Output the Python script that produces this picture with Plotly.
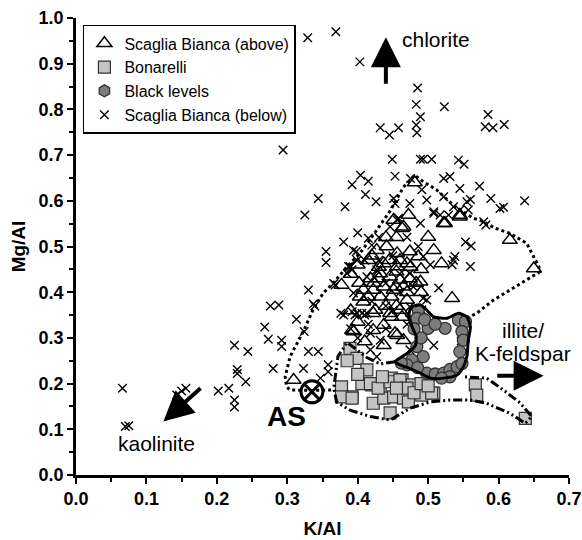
import plotly.graph_objects as go

# ---------------- data ----------------
# Scaglia Bianca (below) -- crosses
below_k = [0.066, 0.070, 0.075, 0.143, 0.150, 0.156, 0.202, 0.217, 0.225, 0.229, 0.229, 0.241, 0.225, 0.225, 0.244,
           0.268, 0.273, 0.276, 0.288, 0.292, 0.292, 0.280, 0.323, 0.358, 0.358, 0.347, 0.330, 0.344,
           0.329, 0.369, 0.403, 0.485, 0.483, 0.489, 0.483, 0.484, 0.523, 0.432, 0.445, 0.458, 0.585, 0.581, 0.592, 0.608,
           0.294, 0.449, 0.489, 0.493, 0.505, 0.543, 0.551,
           0.404, 0.392, 0.415, 0.453, 0.475, 0.522, 0.531, 0.573, 0.545, 0.491,
           0.344, 0.382, 0.411, 0.426, 0.451, 0.325, 0.498, 0.522, 0.560, 0.589, 0.637, 0.602, 0.607, 0.579, 0.582,
           0.536, 0.545, 0.529, 0.458, 0.508,
           0.380, 0.355, 0.355, 0.553, 0.561, 0.560, 0.330, 0.337, 0.313, 0.324, 0.515, 0.493,
           0.453, 0.474, 0.555, 0.557, 0.508, 0.517, 0.489, 0.456, 0.446, 0.415, 0.420, 0.394, 0.399, 0.389, 0.385,
           0.486, 0.493, 0.503, 0.536, 0.538, 0.368, 0.380, 0.396, 0.406, 0.474, 0.491, 0.413, 0.427, 0.474, 0.479,
           0.398, 0.387, 0.392, 0.366, 0.376, 0.394, 0.399, 0.410, 0.413, 0.392, 0.498, 0.534, 0.508, 0.474, 0.496,
           0.418, 0.432, 0.418, 0.427, 0.547, 0.339,
           0.430, 0.440, 0.450, 0.460, 0.420, 0.440, 0.460, 0.410, 0.430, 0.470, 0.400, 0.450, 0.470, 0.440, 0.400,
           0.390, 0.415]
below_mg = [0.190, 0.106, 0.108, 0.175, 0.184, 0.190, 0.184, 0.190, 0.284, 0.231, 0.222, 0.204, 0.164, 0.149, 0.270,
            0.324, 0.297, 0.370, 0.372, 0.295, 0.281, 0.233, 0.233, 0.241, 0.226, 0.212, 0.270, 0.270,
            0.957, 0.970, 0.904, 0.847, 0.811, 0.784, 0.766, 0.749, 0.806, 0.760, 0.744, 0.760, 0.789, 0.762, 0.760, 0.767,
            0.711, 0.691, 0.691, 0.691, 0.691, 0.689, 0.680,
            0.656, 0.635, 0.643, 0.654, 0.649, 0.649, 0.653, 0.632, 0.627, 0.624,
            0.605, 0.587, 0.614, 0.598, 0.605, 0.569, 0.602, 0.609, 0.603, 0.605, 0.600, 0.583, 0.586, 0.554, 0.547,
            0.587, 0.580, 0.569, 0.562, 0.573,
            0.510, 0.489, 0.465, 0.510, 0.501, 0.456, 0.405, 0.374, 0.341, 0.314, 0.409, 0.387,
            0.594, 0.594, 0.598, 0.580, 0.576, 0.569, 0.551, 0.558, 0.543, 0.518, 0.503, 0.492, 0.470, 0.456, 0.441,
            0.500, 0.478, 0.460, 0.470, 0.478, 0.416, 0.350, 0.350, 0.354, 0.368, 0.361, 0.434, 0.449, 0.441, 0.412,
            0.489, 0.456, 0.449, 0.419, 0.354, 0.398, 0.354, 0.350, 0.354, 0.357, 0.383, 0.460, 0.284, 0.274, 0.303,
            0.310, 0.295, 0.274, 0.259, 0.293, 0.370,
            0.470, 0.420, 0.480, 0.440, 0.380, 0.370, 0.400, 0.470, 0.520, 0.520, 0.530, 0.360, 0.330, 0.320, 0.300,
            0.320, 0.330]

# Scaglia Bianca (above) -- open triangles
above_k = [0.481, 0.465, 0.500, 0.522, 0.545, 0.616, 0.650, 0.519, 0.534, 0.377, 0.472, 0.451, 0.463, 0.508,
           0.427, 0.441, 0.456, 0.474, 0.486, 0.437, 0.456, 0.470, 0.418, 0.432, 0.446, 0.460, 0.474, 0.489,
           0.408, 0.422, 0.437, 0.451, 0.465, 0.403, 0.432, 0.448, 0.470, 0.460, 0.446, 0.479, 0.422,
           0.408, 0.425, 0.448, 0.463, 0.437, 0.394, 0.422, 0.453, 0.437, 0.465, 0.410, 0.456, 0.392, 0.309,
           0.402, 0.423, 0.454, 0.483,
           0.390, 0.400, 0.415, 0.430, 0.445, 0.460, 0.475, 0.490, 0.440, 0.455, 0.420, 0.430, 0.455, 0.470,
           0.440, 0.415, 0.390, 0.455, 0.490, 0.400, 0.524, 0.545]
above_mg = [0.640, 0.543, 0.521, 0.551, 0.569, 0.514, 0.452, 0.463, 0.387, 0.416, 0.569, 0.558, 0.540, 0.492,
            0.492, 0.500, 0.485, 0.489, 0.478, 0.463, 0.456, 0.463, 0.430, 0.441, 0.434, 0.427, 0.430, 0.423,
            0.405, 0.405, 0.412, 0.405, 0.412, 0.390, 0.390, 0.390, 0.383, 0.361, 0.354, 0.354, 0.354,
            0.379, 0.361, 0.346, 0.346, 0.328, 0.314, 0.317, 0.310, 0.284, 0.295, 0.292, 0.306, 0.317, 0.208,
            0.420, 0.420, 0.412, 0.420,
            0.440, 0.460, 0.470, 0.455, 0.470, 0.470, 0.455, 0.450, 0.520, 0.520, 0.480, 0.430, 0.445, 0.400,
            0.370, 0.390, 0.360, 0.370, 0.400, 0.335, 0.551, 0.565]

# Bonarelli -- grey squares
bon_k = [0.389, 0.399, 0.413, 0.377, 0.392, 0.406, 0.420, 0.432, 0.448, 0.463, 0.477, 0.422, 0.437, 0.451, 0.465,
         0.472, 0.491, 0.508, 0.446, 0.567, 0.569, 0.638, 0.377, 0.418, 0.429, 0.446, 0.460, 0.470, 0.505, 0.392,
         0.385, 0.400, 0.455, 0.480, 0.435, 0.490, 0.500]
bon_mg = [0.277, 0.255, 0.230, 0.193, 0.171, 0.200, 0.197, 0.190, 0.212, 0.208, 0.197, 0.157, 0.168, 0.171, 0.168,
          0.160, 0.175, 0.179, 0.136, 0.197, 0.175, 0.124, 0.171, 0.200, 0.190, 0.204, 0.208, 0.190, 0.179, 0.168,
          0.250, 0.220, 0.190, 0.180, 0.215, 0.200, 0.195]

# Black levels -- dark grey circles
black_k = [0.486, 0.484, 0.500, 0.524, 0.543, 0.553, 0.548, 0.550, 0.493, 0.477, 0.470, 0.498, 0.510, 0.522,
           0.531, 0.541, 0.548, 0.531, 0.519, 0.484, 0.490, 0.480, 0.495, 0.510, 0.545, 0.462, 0.485]
black_mg = [0.361, 0.343, 0.321, 0.321, 0.339, 0.336, 0.314, 0.295, 0.259, 0.252, 0.241, 0.223, 0.221, 0.223,
            0.231, 0.237, 0.244, 0.215, 0.212, 0.281, 0.300, 0.320, 0.340, 0.330, 0.270, 0.245, 0.235]

# Average shale reference point
as_k = [0.335]
as_mg = [0.182]

# Field outlines
env_above_k = [0.555, 0.569, 0.593, 0.616, 0.640, 0.659, 0.657, 0.640, 0.616, 0.595, 0.579, 0.564, 0.538, 0.512,
               0.493, 0.481, 0.465, 0.446, 0.422, 0.403, 0.385, 0.366, 0.351, 0.337, 0.323, 0.304, 0.297, 0.299,
               0.304, 0.335, 0.366]
env_above_mg = [0.343, 0.354, 0.383, 0.405, 0.427, 0.445, 0.456, 0.507, 0.529, 0.540, 0.554, 0.562, 0.587, 0.624,
                0.642, 0.656, 0.630, 0.578, 0.525, 0.485, 0.456, 0.421, 0.398, 0.363, 0.315, 0.259, 0.215, 0.193,
                0.186, 0.185, 0.186]

env_black_k = [0.477, 0.489, 0.498, 0.508, 0.527, 0.543, 0.555, 0.560, 0.557, 0.555, 0.550, 0.541, 0.522, 0.503,
               0.489, 0.474, 0.460, 0.453, 0.463, 0.474, 0.482, 0.483, 0.478, 0.473, 0.474, 0.477]
env_black_mg = [0.368, 0.372, 0.361, 0.346, 0.343, 0.354, 0.346, 0.324, 0.295, 0.259, 0.237, 0.219, 0.212, 0.212,
                0.223, 0.233, 0.241, 0.248, 0.259, 0.270, 0.284, 0.303, 0.321, 0.343, 0.361, 0.368]

env_bon_k = [0.453, 0.432, 0.413, 0.385, 0.372, 0.366, 0.370, 0.389, 0.418, 0.446, 0.474, 0.503, 0.531, 0.560,
             0.583, 0.616, 0.638, 0.647, 0.631, 0.607, 0.583, 0.550]
env_bon_mg = [0.248, 0.243, 0.257, 0.290, 0.260, 0.190, 0.160, 0.142, 0.128, 0.120, 0.146, 0.160, 0.164, 0.164,
              0.157, 0.135, 0.113, 0.128, 0.157, 0.186, 0.212, 0.215]

x_ticks = [0.0, 0.1, 0.2, 0.3, 0.4, 0.5, 0.6, 0.7]
y_ticks = [0.0, 0.1, 0.2, 0.3, 0.4, 0.5, 0.6, 0.7, 0.8, 0.9, 1.0]

FONT = "Liberation Sans, Arial, Helvetica, sans-serif"

fig = go.Figure()

fig.add_trace(go.Scatter(
    x=below_k, y=below_mg, mode="markers", name="Scaglia Bianca (below)", legendrank=4,
    marker=dict(symbol="x-thin-open", size=8.5, color="black", line=dict(color="black", width=1.4))))

fig.add_trace(go.Scatter(
    x=above_k, y=above_mg, mode="markers", name="Scaglia Bianca (above)", legendrank=1,
    marker=dict(symbol="triangle-up-open", size=13, color="black", line=dict(color="black", width=1.5))))

fig.add_trace(go.Scatter(
    x=env_above_k, y=env_above_mg, mode="lines", showlegend=False,
    line=dict(color="black", width=3, dash="dot")))

fig.add_trace(go.Scatter(
    x=bon_k, y=bon_mg, mode="markers", name="Bonarelli", legendrank=2,
    marker=dict(symbol="square", size=12, color="#c4c4c4", line=dict(color="#333333", width=1.2))))

fig.add_trace(go.Scatter(
    x=env_bon_k, y=env_bon_mg, mode="lines", showlegend=False,
    line=dict(color="black", width=3, dash="9px,3px,2px,3px,2px,3px")))

fig.add_trace(go.Scatter(
    x=black_k, y=black_mg, mode="markers", showlegend=False,
    marker=dict(symbol="circle", size=12, color="#7d7d7d", line=dict(color="#333333", width=1.3))))

fig.add_trace(go.Scatter(
    x=[None], y=[None], mode="markers", name="Black levels", legendrank=3,
    marker=dict(symbol="hexagon", size=12, color="#7d7d7d", line=dict(color="#333333", width=1.3))))

fig.add_trace(go.Scatter(
    x=env_black_k, y=env_black_mg, mode="lines", showlegend=False,
    line=dict(color="black", width=3, shape="spline", smoothing=0.6)))

fig.add_trace(go.Scatter(
    x=as_k, y=as_mg, mode="markers", showlegend=False,
    marker=dict(symbol="circle-x-open", size=22, color="black", line=dict(color="black", width=3))))

annos = []
arrow_common = dict(xref="x", yref="y", axref="x", ayref="y", showarrow=True, arrowhead=2,
                    arrowsize=1.5, arrowwidth=4, arrowcolor="black", text="")
annos.append(dict(x=0.440, y=0.958, ax=0.440, ay=0.853, **arrow_common))
annos.append(dict(x=0.664, y=0.217, ax=0.596, ay=0.217, **arrow_common))
annos.append(dict(x=0.124, y=0.117, ax=0.179, ay=0.193, **arrow_common))

txt = dict(xref="x", yref="y", showarrow=False, font=dict(family=FONT, size=21, color="black"))
annos.append(dict(x=0.460, y=0.952, text="chlorite", xanchor="left", yanchor="middle", **txt))
annos.append(dict(x=0.634, y=0.317, text="illite/", xanchor="center", yanchor="middle", **txt))
annos.append(dict(x=0.634, y=0.266, text="K-feldspar", xanchor="center", yanchor="middle", **txt))
annos.append(dict(x=0.114, y=0.068, text="kaolinite", xanchor="center", yanchor="middle", **txt))
annos.append(dict(x=0.299, y=0.128, text="<b>AS</b>", xanchor="center", yanchor="middle", xref="x", yref="y",
                  showarrow=False, font=dict(family=FONT, size=28, color="black")))

axis_common = dict(
    showgrid=False, zeroline=False, showline=True, linecolor="black", linewidth=2.5,
    ticks="outside", ticklen=6, tickwidth=2, tickcolor="black", automargin=False,
    tickfont=dict(family=FONT, size=18, color="black", weight="bold"),
    minor=dict(ticks="outside", ticklen=4, tickwidth=2, tickcolor="black", dtick=0.05),
)

fig.update_layout(
    width=582, height=540,
    margin=dict(l=76, r=13, t=18, b=65),
    paper_bgcolor="white", plot_bgcolor="white",
    font=dict(family=FONT, color="black"),
    showlegend=True,
    legend=dict(x=0.014, y=0.985, xanchor="left", yanchor="top",
                bgcolor="white", bordercolor="black", borderwidth=1.5,
                font=dict(family=FONT, size=16, color="black"), itemwidth=30),
    annotations=annos,
    xaxis=dict(range=[0, 0.7], tickvals=x_ticks, ticktext=[f"{v:.1f}" for v in x_ticks],
               title=dict(text="K/Al", font=dict(family=FONT, size=19, weight="bold"), standoff=14),
               **axis_common),
    yaxis=dict(range=[0, 1.0], tickvals=y_ticks, ticktext=[f"{v:.1f}" for v in y_ticks],
               title=dict(text="Mg/Al", font=dict(family=FONT, size=19, weight="bold"), standoff=8),
               **axis_common),
)

fig.write_html("out.html", config={"displayModeBar": False})
